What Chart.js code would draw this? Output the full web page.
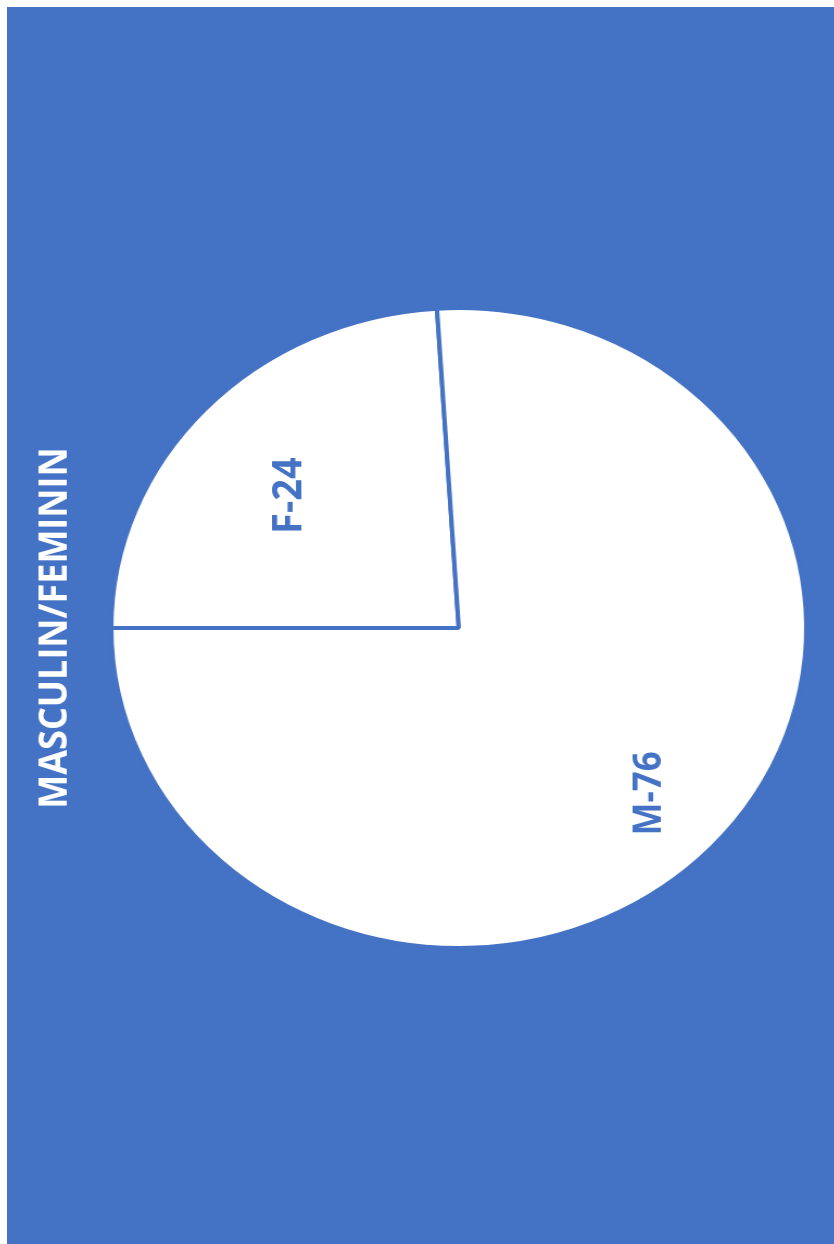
<!DOCTYPE html>
<html lang="fr">
<head>
  <meta charset="UTF-8">
  <title>Masculin/Feminin</title>
  <script src="https://cdn.jsdelivr.net/npm/chart.js"></script>
  <style>
    html, body { margin: 0; padding: 0; width: 834px; height: 1244px; overflow: hidden; background: #fff; }
    .panel { position: absolute; left: 7px; top: 7px; width: 827px; height: 1237px; background: #4472c4; overflow: hidden; }
    /* pie is slightly wider than tall, so stretch the canvas sideways */
    .stretch { position: absolute; left: 0; top: 0; width: 762px; height: 1237px; transform: scaleX(1.086); transform-origin: 0 0; }
  </style>
</head>
<body>
  <div class="panel">
    <div class="stretch"><canvas id="pie"></canvas></div>
  </div>

  <script>
    const chartTitle = 'MASCULIN/FEMININ';
    const categories = ['F', 'M'];
    const values = [24, 76];

    const BLUE = '#4472c4';

    // vertical labels: title on the left, "F-24" / "M-76" inside the slices
    const sideLabels = {
      id: 'sideLabels',
      afterDatasetsDraw(chart, args, opts) {
        const ctx = chart.ctx;
        const area = chart.chartArea;
        ctx.save();
        ctx.textAlign = 'center';
        ctx.textBaseline = 'middle';

        ctx.fillStyle = '#ffffff';
        ctx.font = 'bold 36px "Open Sans", sans-serif';
        ctx.save();
        ctx.translate(opts.titleX, (area.top + area.bottom) / 2);
        ctx.rotate(-Math.PI / 2);
        ctx.fillText(chartTitle, 0, 0);
        ctx.restore();

        ctx.fillStyle = BLUE;
        chart.getDatasetMeta(0).data.forEach((arc, i) => {
          const p = arc.getProps(['x', 'y', 'startAngle', 'endAngle', 'outerRadius'], true);
          const mid = (p.startAngle + p.endAngle) / 2;
          const r = p.outerRadius * opts.radius[i];
          const [dx, dy] = opts.nudge[i];
          ctx.font = 'bold ' + opts.size[i] + 'px "Open Sans", sans-serif';
          ctx.save();
          ctx.translate(p.x + Math.cos(mid) * r + dx, p.y + Math.sin(mid) * r + dy);
          ctx.rotate(-Math.PI / 2);
          ctx.fillText(categories[i] + '-' + values[i], 0, 0);
          ctx.restore();
        });
        ctx.restore();
      }
    };

    new Chart(document.getElementById('pie'), {
      type: 'pie',
      data: {
        labels: categories,
        datasets: [{
          data: values,
          backgroundColor: '#ffffff',
          borderColor: BLUE,
          borderWidth: 4,
          hoverOffset: 0
        }]
      },
      options: {
        responsive: true,
        maintainAspectRatio: false,
        animation: false,
        events: [],
        rotation: -90,
        layout: { padding: { left: 94, right: 24, top: 299, bottom: 294 } },
        plugins: {
          legend: { display: false },
          tooltip: { enabled: false },
          sideLabels: { titleX: 45, radius: [0.65, 0.755], size: [38, 35], nudge: [[-4, 10], [0, 0]] }
        }
      },
      plugins: [sideLabels]
    });
  </script>
</body>
</html>
